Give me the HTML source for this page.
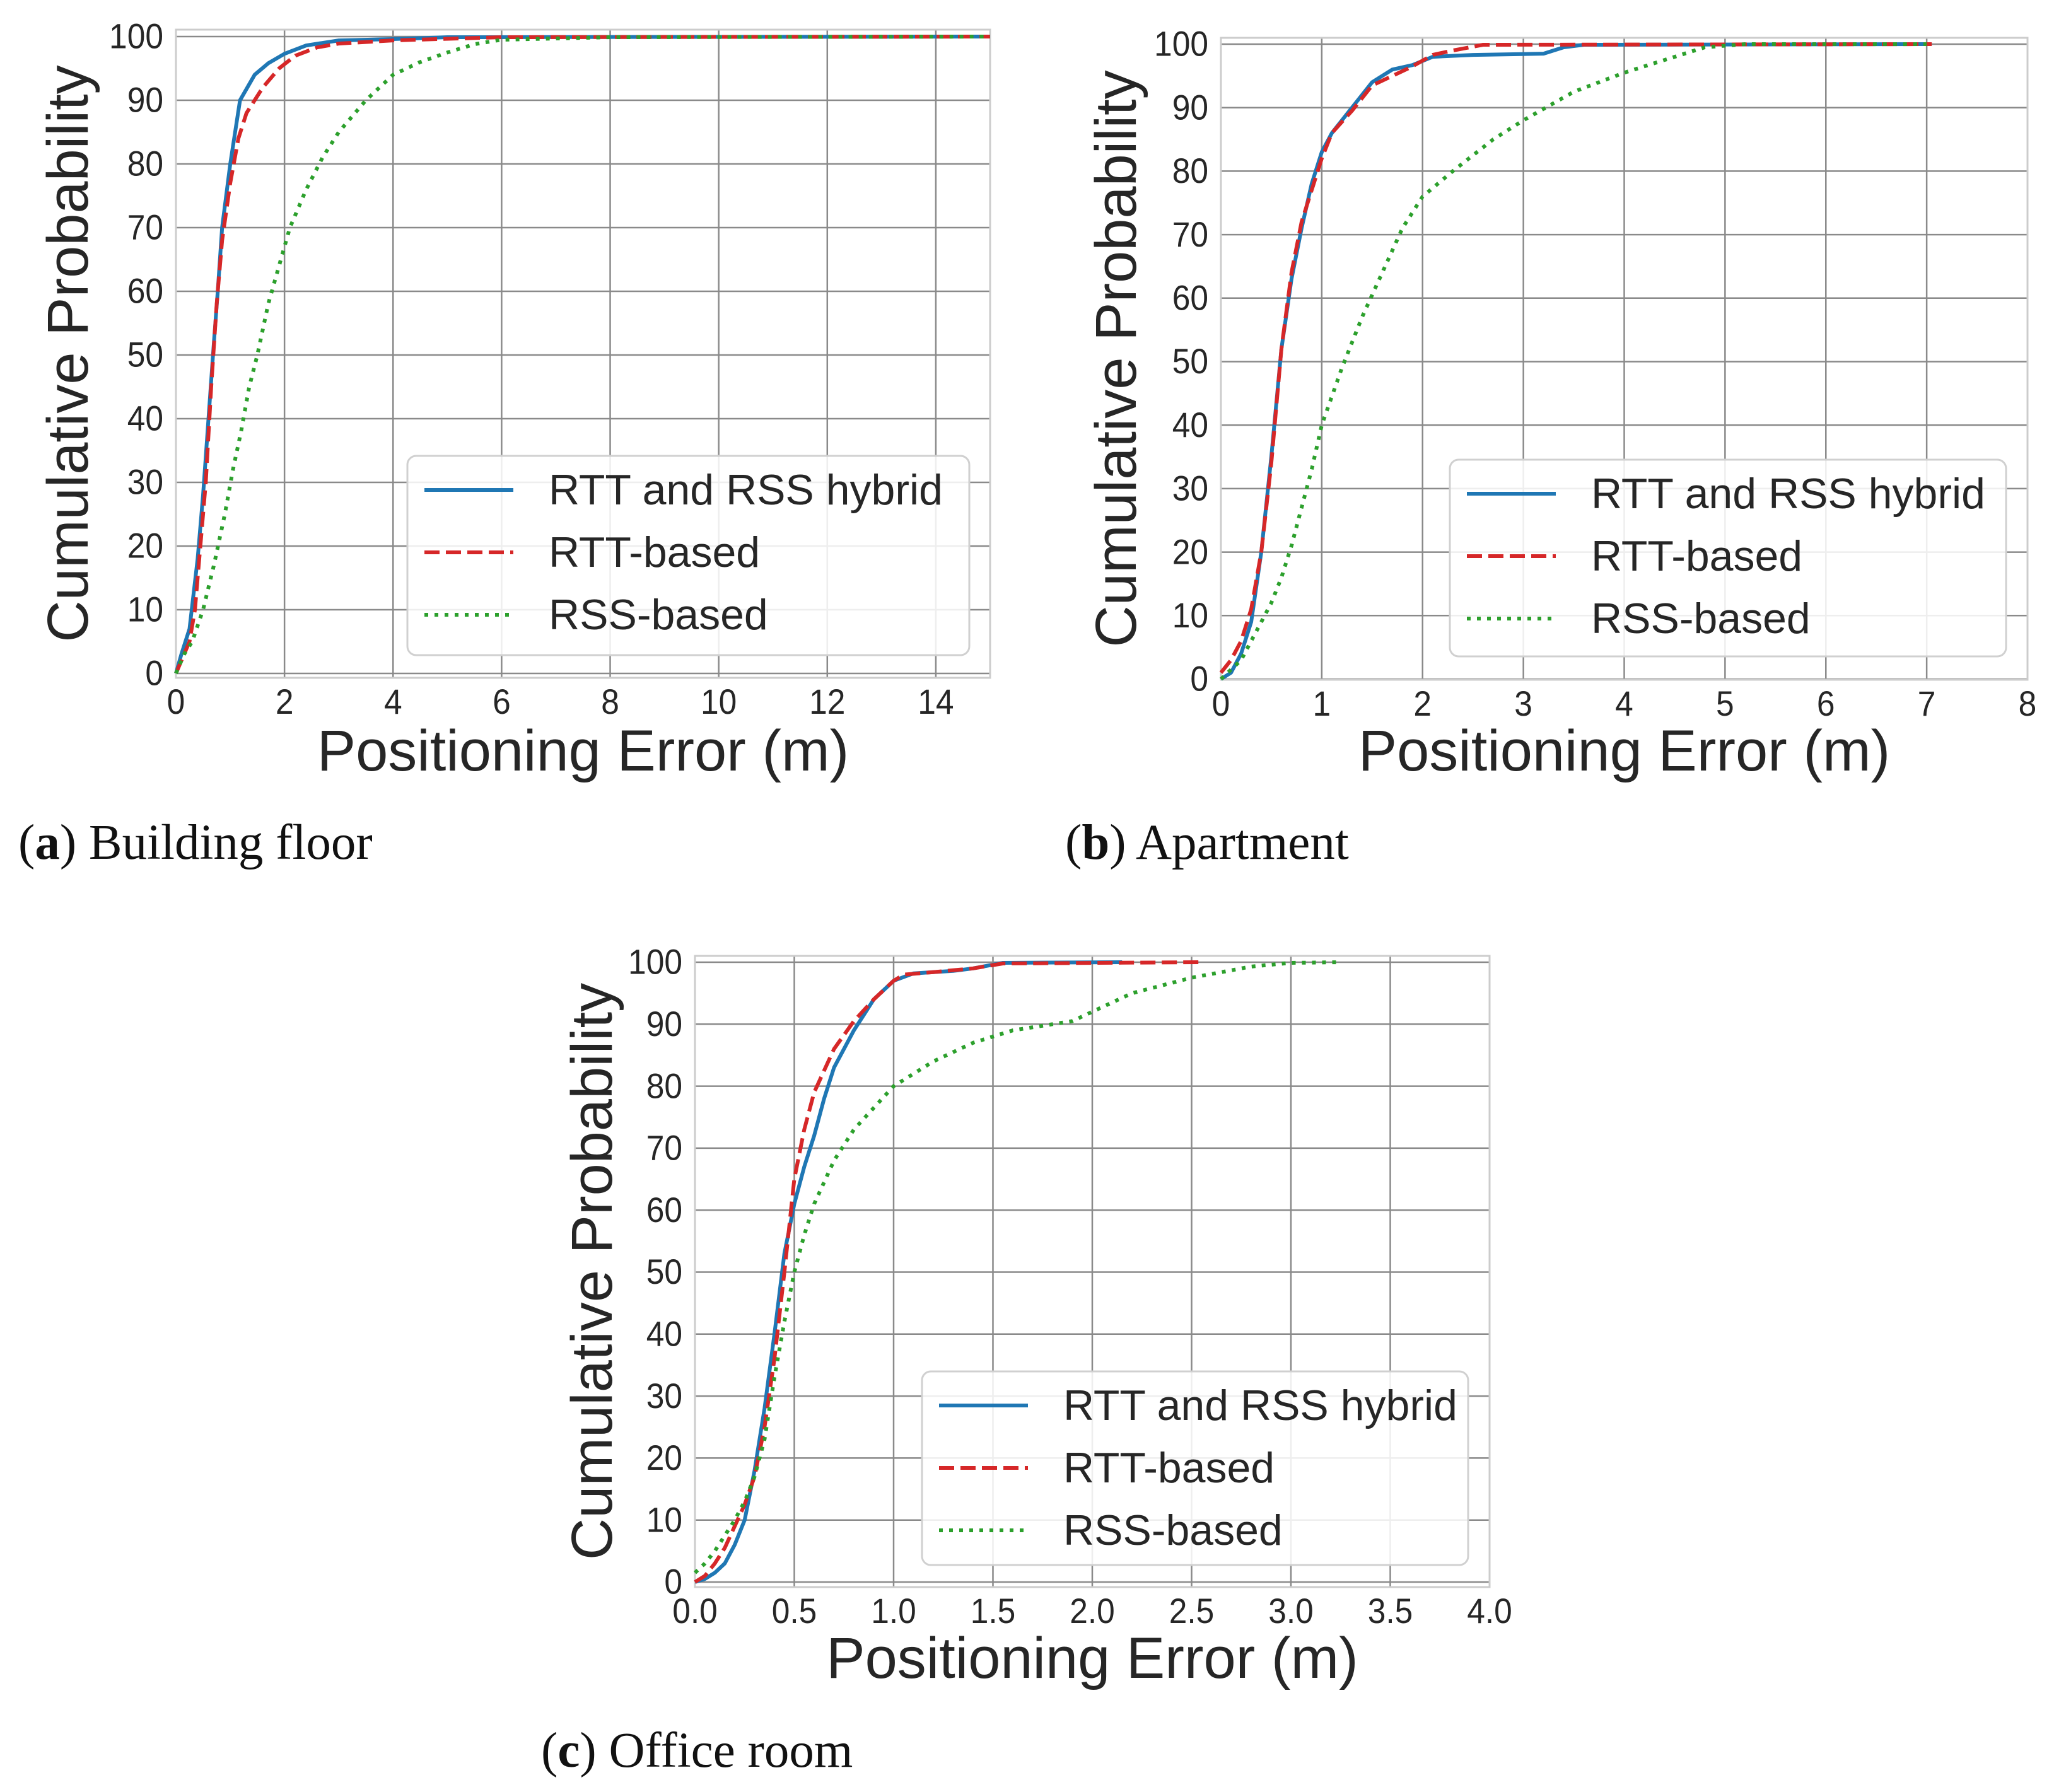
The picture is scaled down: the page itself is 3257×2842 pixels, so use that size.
<!DOCTYPE html>
<html><head><meta charset="utf-8"><style>
html,body{margin:0;padding:0;background:#fff;}
svg{display:block;}
</style></head><body>
<svg id="fig" width="3257" height="2842" viewBox="0 0 3257 2842" xmlns="http://www.w3.org/2000/svg" font-family="'Liberation Sans', Arial, sans-serif">
<text x="29" y="1362" font-family="'Liberation Serif', serif" font-size="79" fill="#111">(<tspan font-weight="bold">a</tspan>) Building floor</text>
<text x="1689" y="1362" font-family="'Liberation Serif', serif" font-size="79" fill="#111">(<tspan font-weight="bold">b</tspan>) Apartment</text>
<text x="858" y="2802" font-family="'Liberation Serif', serif" font-size="79" fill="#111">(<tspan font-weight="bold">c</tspan>) Office room</text>
</svg>
<script>
// Panel (a) Building floor
const aHybridX=[0,0.1,0.25,0.4,0.5,0.6,0.7,0.77,0.85,1.0,1.18,1.45,1.7,2,2.4,3,4,5,15];
const aHybridY=[0,3,7,18,28,40,52,60,70,80,90,94,95.8,97.3,98.6,99.4,99.6,99.9,100];
const aRttX=[0,0.1,0.25,0.35,0.45,0.55,0.65,0.75,0.85,1,1.15,1.3,1.6,1.9,2.2,2.6,3,4,6,15];
const aRttY=[0,2,5,10,20,30,45,58,68,77,84,88,92,95,97,98.3,98.9,99.4,99.9,100];
const aRssX=[0,0.15,0.3,0.5,0.7,0.9,1.05,1.2,1.35,1.5,1.7,1.9,2.1,2.4,2.7,3,3.5,4,4.5,5,5.5,6,7,8,15];
const aRssY=[0,3,5,10,17,25,32,38,45,50,58,64,70,76,81,85,90,94,96,97.5,98.8,99.5,99.7,99.9,100];
const aXTicks=[0,2,4,6,8,10,12,14];
// Panel (b) Apartment
const bHybridX=[0,0.1,0.2,0.3,0.4,0.5,0.6,0.7,0.8,0.9,1,1.1,1.3,1.5,1.7,1.9,2.1,2.5,3.2,3.4,3.6,7.05];
const bHybridY=[0,1,4,9,20,35,52,63,71,78,83,86,90,94,96,96.7,98,98.3,98.5,99.5,99.9,100];
const bRttX=[0,0.1,0.2,0.3,0.4,0.5,0.6,0.7,0.8,0.9,1,1.1,1.3,1.5,1.7,1.9,2.1,2.3,2.6,7.05];
const bRttY=[1,3,6,11,20,34,52,64,72,77,82,86,89.5,93.5,95,96.5,98.3,99,99.9,100];
const bRssX=[0,0.2,0.4,0.5,0.6,0.7,0.8,0.9,1,1.2,1.4,1.6,1.8,2,2.3,2.7,3,3.5,4,4.5,4.8,5.2,7];
const bRssY=[0,3,9,12,16,21,27,33,40,49,57,64,71,76,80,85,88,92.5,95.5,98,99.5,100,100];
const bXTicks=[0,1,2,3,4,5,6,7,8];
// Panel (c) Office room
const cHybridX=[0,0.05,0.1,0.15,0.2,0.25,0.3,0.35,0.4,0.45,0.5,0.55,0.6,0.65,0.7,0.8,0.9,1.0,1.1,1.3,1.4,1.55,2.15];
const cHybridY=[0,0.5,1.5,3,6,10,18,28,40,53,61,67,72,78,83,89,94,97,98.2,98.6,99,99.9,100];
const cRttX=[0,0.05,0.1,0.15,0.2,0.25,0.3,0.35,0.4,0.45,0.5,0.55,0.6,0.7,0.8,0.9,1.0,1.05,1.2,1.4,1.55,2.55];
const cRttY=[0,1,3,5.5,9,12.5,17,25,36,50,65,73,79,86,90.5,94,97,98,98.4,99,99.8,100];
const cRssX=[0,0.05,0.1,0.15,0.2,0.25,0.3,0.35,0.4,0.45,0.5,0.55,0.6,0.7,0.8,1.0,1.2,1.4,1.6,1.8,1.9,2.0,2.2,2.5,2.8,3.0,3.25];
const cRssY=[1.5,3,5,7.5,10,13,17,23,33,42,50,56,61,68,73,80,84,87,89,90,90.5,92,95,97.5,99.3,99.9,100];
const cXTicks=[0,0.5,1.0,1.5,2.0,2.5,3.0,3.5,4.0];
const cXTickLabels=["0.0","0.5","1.0","1.5","2.0","2.5","3.0","3.5","4.0"];
const yTicks=[0,10,20,30,40,50,60,70,80,90,100];
const seriesNames=["RTT and RSS hybrid","RTT-based","RSS-based"];

const NS="http://www.w3.org/2000/svg";
const svg=document.getElementById('fig');
function mk(tag,attrs,parent){const e=document.createElementNS(NS,tag);for(const k in attrs)e.setAttribute(k,attrs[k]);(parent||svg).appendChild(e);return e;}

const panels=[
 {id:'a',L:279,R:1570,T:47,B:1075,xmin:0,xmax:15,y0:1068,y100:58,xt:aXTicks,xl:aXTicks.map(String),
  s:[[aHybridX,aHybridY],[aRttX,aRttY],[aRssX,aRssY]],leg:[646,723,1537,1039],ytx:108,xty:1222},
 {id:'b',L:1936,R:3215,T:60,B:1078,xmin:0,xmax:8,y0:1077,y100:70,xt:bXTicks,xl:bXTicks.map(String),
  s:[[bHybridX,bHybridY],[bRttX,bRttY],[bRssX,bRssY]],leg:[2299,729,3181,1041],ytx:1770,xty:1222},
 {id:'c',L:1102,R:2362,T:1516,B:2517,xmin:0,xmax:4,y0:2509,y100:1526,xt:cXTicks,xl:cXTickLabels,
  s:[[cHybridX,cHybridY],[cRttX,cRttY],[cRssX,cRssY]],leg:[1462,2175,2328,2482],ytx:939,xty:2661}
];
const colors=['#1f77b4','#d62728','#2ca02c'];
const dashes=['none','24 10','6 10'];
const keys=['hybrid','rtt','rss'];

panels.forEach(p=>{
  const g=mk('g',{});
  
  
  const sx=v=>p.L+(v-p.xmin)/(p.xmax-p.xmin)*(p.R-p.L);
  const sy=v=>p.y0+(v/100)*(p.y100-p.y0);
  yTicks.forEach(t=>{
    const l=mk('line',{x1:p.L,x2:p.R,y1:sy(t),y2:sy(t),stroke:'#8a8a8a','stroke-width':2.5},g);
    
    
    const tx=mk('text',{x:0,y:0,'font-size':56,fill:'#262626','text-anchor':'end','dominant-baseline':'central',transform:`translate(${p.L-20},${sy(t)}) scale(0.92,1)`},g);
    tx.textContent=String(t);
    
    
  });
  p.xt.forEach((t,i)=>{
    const l=mk('line',{x1:sx(t),x2:sx(t),y1:p.T,y2:p.B,stroke:'#8a8a8a','stroke-width':2.5},g);
    
    
    const tx=mk('text',{x:0,y:0,'font-size':56,fill:'#262626','text-anchor':'middle',transform:`translate(${sx(t)},${p.B+57}) scale(0.92,1)`},g);
    tx.textContent=p.xl[i];
    
    
  });
  const fr=mk('rect',{x:p.L,y:p.T,width:p.R-p.L,height:p.B-p.T,fill:'none',stroke:'#cccccc','stroke-width':3},g);
  
  
  p.s.forEach((s,k)=>{
    const pts=s[0].map((x,i)=>sx(x).toFixed(1)+','+sy(s[1][i]).toFixed(1)).join(' ');
    const pl=mk('polyline',{points:pts,fill:'none',stroke:colors[k],'stroke-width':6,'stroke-dasharray':dashes[k],'stroke-linejoin':'round'},g);
    
    
  });
  const [lx,ly,rx,by]=p.leg;
  const lg=mk('g',{},g);
  
  
  mk('rect',{x:lx,y:ly,width:rx-lx,height:by-ly,rx:14,fill:'rgba(255,255,255,0.85)',stroke:'#d0d0d0','stroke-width':3},lg);
  seriesNames.forEach((n,k)=>{
    const yy=ly+54+k*99;
    const ln=mk('line',{x1:lx+27,x2:lx+168,y1:yy,y2:yy,stroke:colors[k],'stroke-width':6,'stroke-dasharray':dashes[k]},lg);
    
    
    const t=mk('text',{x:lx+224,y:yy,'font-size':68,fill:'#262626','dominant-baseline':'central'},lg);
    t.textContent=n;
    
    
  });
  const xt=mk('text',{x:(p.L+p.R)/2,y:p.xty,'font-size':92,fill:'#262626','text-anchor':'middle'},g);
  xt.textContent='Positioning Error (m)';
  
  
  const yc=(p.T+p.B)/2;
  const yt=mk('text',{x:0,y:0,'font-size':92,fill:'#262626','text-anchor':'middle','dominant-baseline':'central',transform:`translate(${p.ytx},${yc}) rotate(-90)`},g);
  yt.textContent='Cumulative Probability';
  
  
});
</script>
</body></html>
